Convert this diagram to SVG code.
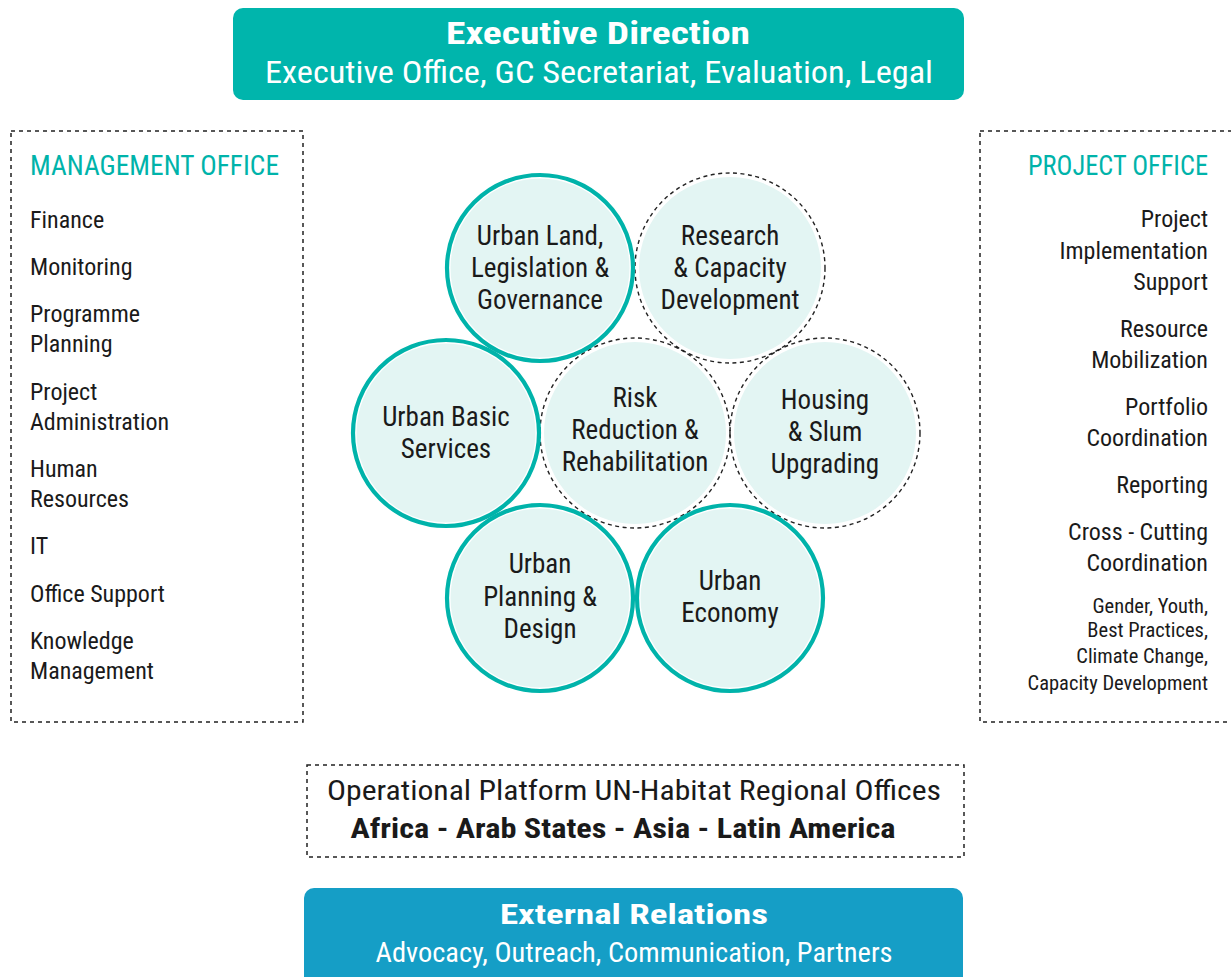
<svg xmlns="http://www.w3.org/2000/svg" width="1231" height="977" viewBox="0 0 1231 977">
<style>
text{font-family:"Roboto Condensed","Liberation Sans Narrow","DejaVu Sans Condensed","Liberation Sans",sans-serif;fill:#1a1a1a;font-weight:400}
.w{fill:#fff}
.b{font-weight:bold}
.hd{fill:#00b3aa;font-size:27.5px}
.it{font-size:24px}
.sm{font-size:20.5px}
.c{text-anchor:middle;font-size:27px}
.r{text-anchor:end}
.dash{fill:none;stroke:#222;stroke-width:1.5;stroke-dasharray:4 4}
.fill{fill:#e3f5f3}
.solid{fill:none;stroke:#00b3aa;stroke-width:4.2}
.dc{fill:none;stroke:#222;stroke-width:1.4;stroke-dasharray:4 3.5}
</style>
<g id="executive">
<rect x="233" y="8" width="731" height="92" rx="10" fill="#00b5ac"/>
<text x="598" y="44" text-anchor="middle" class="w b" font-size="32" textLength="304" lengthAdjust="spacingAndGlyphs">Executive Direction</text>
<text x="599" y="83" text-anchor="middle" class="w" font-size="31" textLength="668" lengthAdjust="spacingAndGlyphs">Executive Office, GC Secretariat, Evaluation, Legal</text>
</g>
<g id="management">
<rect x="11" y="131" width="292" height="591" class="dash"/>
<text x="30" y="175" class="hd" textLength="249" lengthAdjust="spacingAndGlyphs">MANAGEMENT OFFICE</text>
<g class="it">
<text x="30" y="228">Finance</text>
<text x="30" y="275">Monitoring</text>
<text x="30" y="322">Programme</text>
<text x="30" y="352">Planning</text>
<text x="30" y="400">Project</text>
<text x="30" y="430">Administration</text>
<text x="30" y="477">Human</text>
<text x="30" y="507">Resources</text>
<text x="30" y="554">IT</text>
<text x="30" y="602">Office Support</text>
<text x="30" y="649">Knowledge</text>
<text x="30" y="679">Management</text>
</g>
</g>
<g id="project">
<rect x="980" y="131" width="260" height="591" class="dash"/>
<text x="1208" y="175" class="hd r" textLength="180" lengthAdjust="spacingAndGlyphs">PROJECT OFFICE</text>
<g class="it r">
<text x="1208" y="227">Project</text>
<text x="1208" y="259">Implementation</text>
<text x="1208" y="290">Support</text>
<text x="1208" y="337">Resource</text>
<text x="1208" y="368">Mobilization</text>
<text x="1208" y="415">Portfolio</text>
<text x="1208" y="446">Coordination</text>
<text x="1208" y="493">Reporting</text>
<text x="1208" y="540">Cross - Cutting</text>
<text x="1208" y="571">Coordination</text>
</g>
<g class="sm r">
<text x="1208" y="613">Gender, Youth,</text>
<text x="1208" y="637">Best Practices,</text>
<text x="1208" y="663">Climate Change,</text>
<text x="1208" y="690">Capacity Development</text>
</g>
</g>
<g id="research">
<circle cx="730" cy="268" r="91" class="fill"/>
<circle cx="730" cy="268" r="95" class="dc"/>
<text class="c"><tspan x="730" y="245">Research</tspan><tspan x="730" y="277">&amp; Capacity</tspan><tspan x="730" y="309">Development</tspan></text>
</g>
<g id="risk">
<circle cx="635" cy="433" r="91" class="fill"/>
<circle cx="635" cy="433" r="95" class="dc"/>
<text class="c"><tspan x="635" y="407">Risk</tspan><tspan x="635" y="439">Reduction &amp;</tspan><tspan x="635" y="471">Rehabilitation</tspan></text>
</g>
<g id="housing">
<circle cx="825" cy="433" r="91" class="fill"/>
<circle cx="825" cy="433" r="95" class="dc"/>
<text class="c"><tspan x="825" y="409">Housing</tspan><tspan x="825" y="441">&amp; Slum</tspan><tspan x="825" y="473">Upgrading</tspan></text>
</g>
<g id="urban-land">
<circle cx="540" cy="268" r="89.5" class="fill"/>
<circle cx="540" cy="268" r="93" class="solid"/>
<text class="c"><tspan x="540" y="245">Urban Land,</tspan><tspan x="540" y="277">Legislation &amp;</tspan><tspan x="540" y="309">Governance</tspan></text>
</g>
<g id="urban-basic">
<circle cx="446" cy="433" r="89.5" class="fill"/>
<circle cx="446" cy="433" r="93" class="solid"/>
<text class="c"><tspan x="446" y="426">Urban Basic</tspan><tspan x="446" y="458">Services</tspan></text>
</g>
<g id="urban-planning">
<circle cx="540" cy="598" r="89.5" class="fill"/>
<circle cx="540" cy="598" r="93" class="solid"/>
<text class="c"><tspan x="540" y="573">Urban</tspan><tspan x="540" y="606">Planning &amp;</tspan><tspan x="540" y="638">Design</tspan></text>
</g>
<g id="urban-economy">
<circle cx="730" cy="598" r="89.5" class="fill"/>
<circle cx="730" cy="598" r="93" class="solid"/>
<text class="c"><tspan x="730" y="590">Urban</tspan><tspan x="730" y="622">Economy</tspan></text>
</g>
<g id="operational">
<rect x="307" y="765" width="657" height="92" class="dash"/>
<text x="634" y="800" text-anchor="middle" font-size="28" textLength="614" lengthAdjust="spacingAndGlyphs">Operational Platform UN-Habitat Regional Offices</text>
<text x="623" y="838" text-anchor="middle" class="b" font-size="28" textLength="545" lengthAdjust="spacingAndGlyphs">Africa - Arab States - Asia - Latin America</text>
</g>
<g id="external">
<rect x="304" y="888" width="659" height="100" rx="10" fill="#159ec6"/>
<text x="634" y="924" text-anchor="middle" class="w b" font-size="28" textLength="268" lengthAdjust="spacingAndGlyphs">External Relations</text>
<text x="634" y="962" text-anchor="middle" class="w" font-size="28" textLength="517" lengthAdjust="spacingAndGlyphs">Advocacy, Outreach, Communication, Partners</text>
</g>
<g id="connectors"/>
</svg>
